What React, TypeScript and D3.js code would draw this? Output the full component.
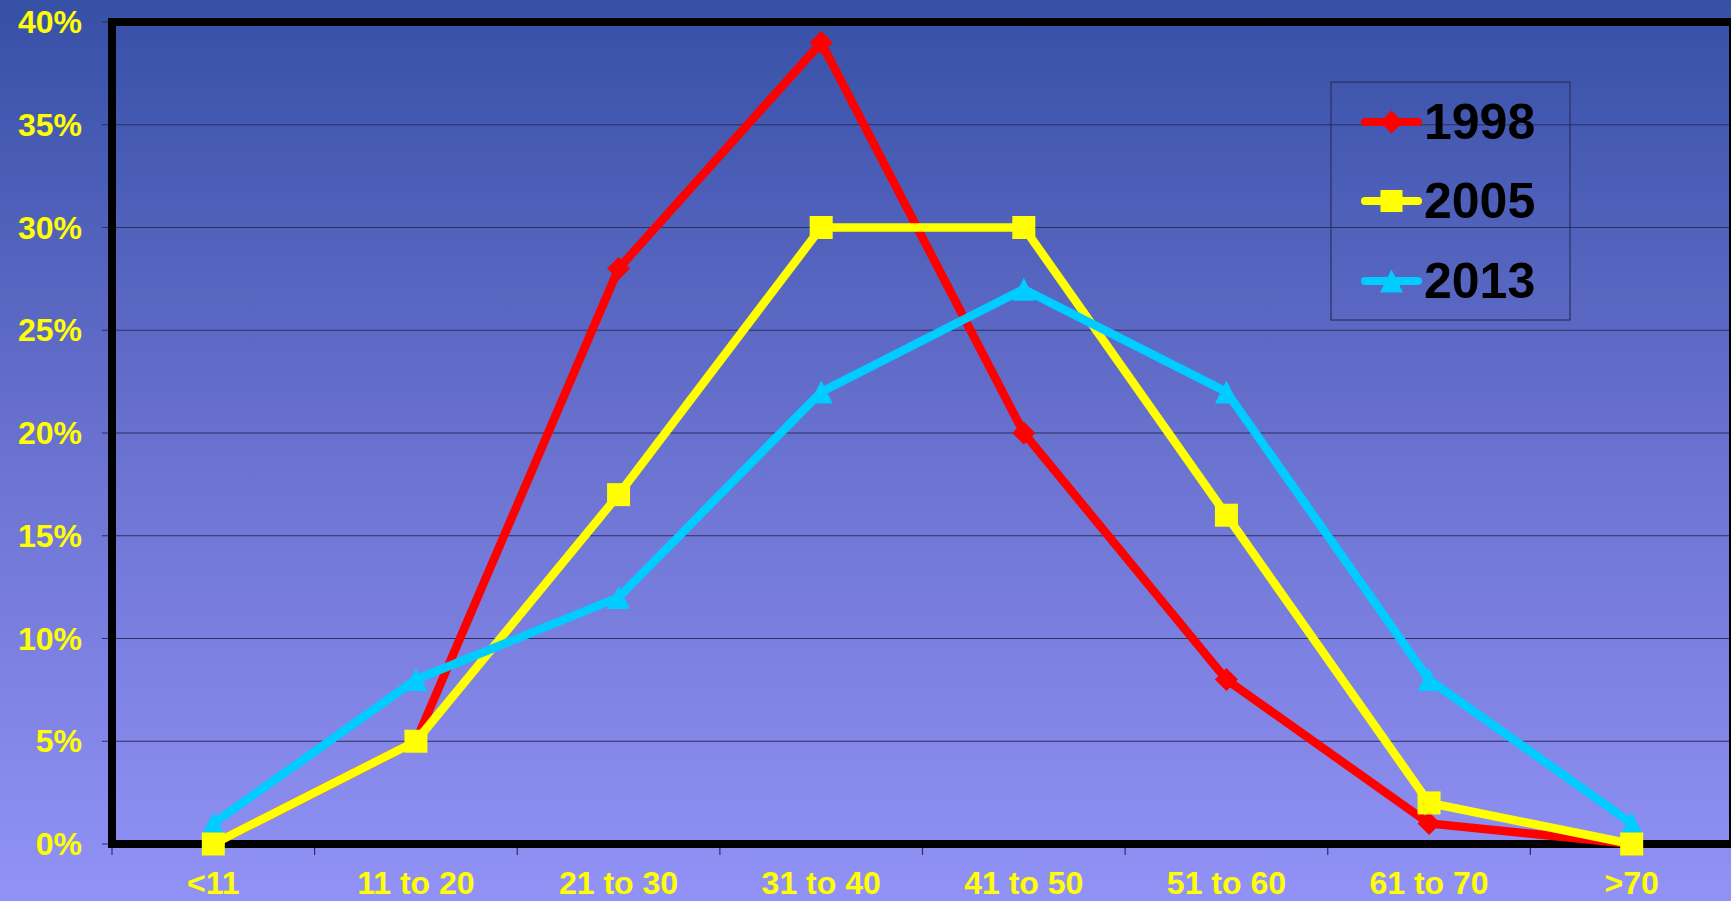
import React from "react";
import * as d3 from "d3";

const categories = ["<11", "11 to 20", "21 to 30", "31 to 40", "41 to 50", "51 to 60", "61 to 70", ">70"];
const series1998 = [0, 5, 28, 39, 20, 8, 1, 0];
const series2005 = [0, 5, 17, 30, 30, 16, 2, 0];
const series2013 = [1, 8, 12, 22, 27, 22, 8, 1];
const yTicks = [0, 5, 10, 15, 20, 25, 30, 35, 40];
const seriesNames = ["1998", "2005", "2013"];

const W = 1731;
const H = 901;
const left = 112;
const right = 1733;
const top = 22;
const bottom = 844;
const FONT = "'Liberation Sans', Arial, sans-serif";

export default function App() {
  const x = d3.scaleBand<string>().domain(categories).range([left, right]).padding(0);
  const y = d3.scaleLinear().domain([0, 40]).range([bottom, top]);
  const cx = (c: string) => (x(c) as number) + x.bandwidth() / 2;

  const line = d3
    .line<number>()
    .x((_, i) => cx(categories[i]))
    .y((v) => y(v));

  const series = [
    { name: seriesNames[0], values: series1998, color: "#ff0000", marker: "diamond" },
    { name: seriesNames[1], values: series2005, color: "#ffff00", marker: "square" },
    { name: seriesNames[2], values: series2013, color: "#00ccff", marker: "triangle" },
  ];

  const marker = (type: string, px: number, py: number, color: string, s: number, key: string) => {
    const h = s / 2;
    if (type === "diamond") {
      return <path key={key} d={`M${px},${py - h}L${px + h},${py}L${px},${py + h}L${px - h},${py}Z`} fill={color} />;
    }
    if (type === "square") {
      return <rect key={key} x={px - h} y={py - h} width={s} height={s} fill={color} />;
    }
    return <path key={key} d={`M${px},${py - h}L${px + h},${py + h}L${px - h},${py + h}Z`} fill={color} />;
  };

  const markerOrder = [2, 0, 1];
  const legendRows = [122, 201, 281];

  return (
    <svg width={W} height={H} style={{ display: "block", position: "absolute", left: 0, top: 0 }}>
      <defs>
        <linearGradient id="bg" x1="0" y1="0" x2="0" y2="1">
          <stop offset="0" stopColor="#3650a6" />
          <stop offset="0.5" stopColor="#6a72cf" />
          <stop offset="1" stopColor="#9292f6" />
        </linearGradient>
      </defs>
      <rect x={0} y={0} width={W} height={H} fill="url(#bg)" />

      {yTicks.map((t) => (
        <line key={"g" + t} x1={left - 10} x2={right} y1={y(t)} y2={y(t)} stroke="#2a2f5e" strokeWidth={1.2} />
      ))}
      {d3.range(categories.length + 1).map((i) => {
        const xx = left + i * x.bandwidth();
        return <line key={"xt" + i} x1={xx} x2={xx} y1={bottom} y2={bottom + 11} stroke="#2a2f5e" strokeWidth={1.2} />;
      })}

      <rect x={left} y={top} width={right - left} height={bottom - top} fill="none" stroke="#000" strokeWidth={8} />

      {yTicks.map((t) => (
        <text key={"yl" + t} x={82} y={y(t) + 11} textAnchor="end" fill="#ffff00" fontFamily={FONT} fontWeight="bold" fontSize={32}>
          {t + "%"}
        </text>
      ))}
      {categories.map((c) => (
        <text key={"xl" + c} x={cx(c)} y={894} textAnchor="middle" fill="#ffff00" fontFamily={FONT} fontWeight="bold" fontSize={32}>
          {c}
        </text>
      ))}

      {series.map((s) => (
        <path key={"l" + s.name} d={line(s.values) || ""} fill="none" stroke={s.color} strokeWidth={8.5} strokeLinejoin="miter" />
      ))}
      {markerOrder.map((si) => {
        const s = series[si];
        return s.values.map((v, i) => marker(s.marker, cx(categories[i]), y(v), s.color, 23, s.name + i));
      })}

      <rect x={1331} y={82} width={239} height={238} fill="none" stroke="#2a2f5e" strokeWidth={1.2} />
      {series.map((s, i) => (
        <g key={"lg" + s.name}>
          <line x1={1365} x2={1418} y1={legendRows[i]} y2={legendRows[i]} stroke={s.color} strokeWidth={8} strokeLinecap="round" />
          {marker(s.marker, 1391.5, legendRows[i], s.color, s.marker === "square" ? 22 : 23, "lm" + i)}
          <text x={1424} y={legendRows[i] + 17} fill="#000" fontFamily={FONT} fontWeight="bold" fontSize={50}>
            {s.name}
          </text>
        </g>
      ))}
    </svg>
  );
}
